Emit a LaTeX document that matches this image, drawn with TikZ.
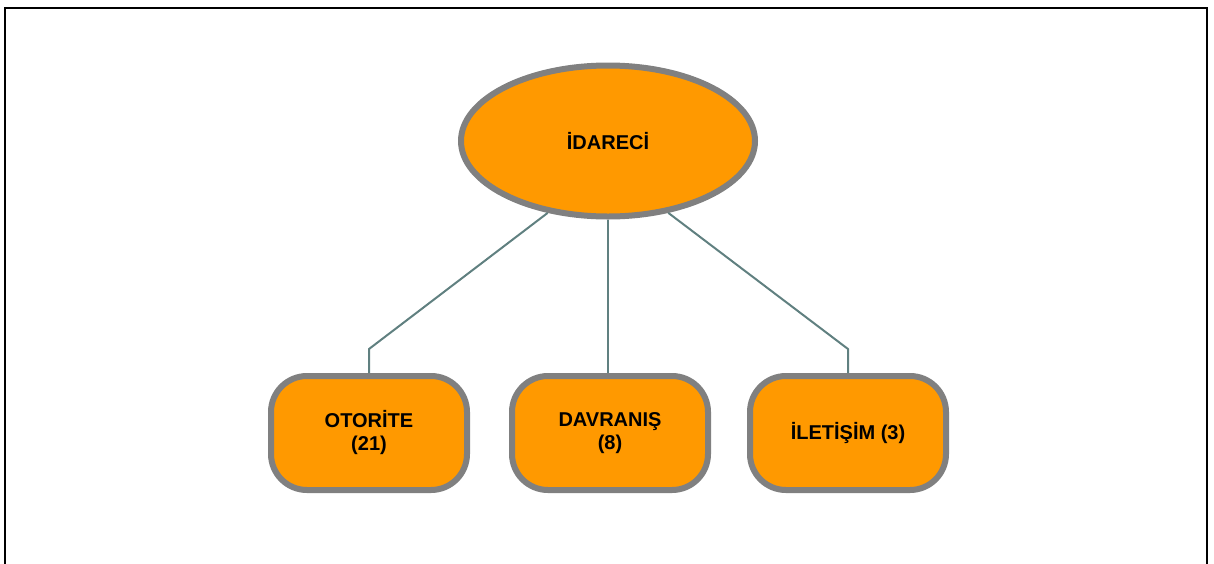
\documentclass[tikz,border=0pt]{standalone}
\usepackage{fontspec}
\setmainfont{Liberation Sans}
\usetikzlibrary{shapes.geometric}
\definecolor{kutu}{RGB}{255,153,0}
\definecolor{kenar}{RGB}{128,128,128}
\definecolor{bag}{RGB}{96,128,128}
\tikzset{
  tepe/.style={ellipse, fill=kutu, draw=kenar, line width=6pt, minimum width=294pt, minimum height=151pt, font=\fontsize{20}{23}\selectfont\bfseries},
  alt/.style={rectangle, rounded corners=36pt, fill=kutu, draw=kenar, line width=6pt, minimum width=196pt, minimum height=114pt, align=center, font=\fontsize{20}{23}\selectfont\bfseries},
  bag/.style={draw=bag, line width=2pt}
}
\begin{document}
\begin{tikzpicture}[x=1pt, y=-1pt]
        \useasboundingbox (0,0) rectangle (1214,563);
        \clip (0,0) rectangle (1214,563);
        \draw[line width=2pt] (5,8) rectangle (1207,580);
        
        \node[tepe] (idareci) at (608,141) {İDARECİ};
        \node[alt] (otorite) at (369,433) {OTORİTE\\(21)};
        \node[alt] (davranis) at (610,433) {DAVRANIŞ\\(8)};
        \node[alt] (iletisim) at (848,433) {İLETİŞİM (3)};
        
        \draw[bag] (idareci.230) -- ([yshift=24pt]otorite.north) -- (otorite.north);
        \draw[bag] (idareci.south) -- (idareci.south |- davranis.north);
        \draw[bag] (idareci.310) -- ([yshift=24pt]iletisim.north) -- (iletisim.north);
        
    \end{tikzpicture}
\end{document}
